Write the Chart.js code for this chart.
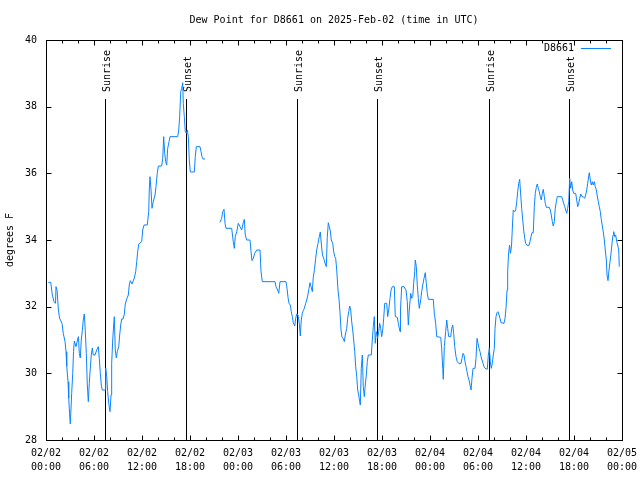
<!DOCTYPE html>
<html>
<head>
<meta charset="utf-8">
<script src="https://cdn.jsdelivr.net/npm/chart.js@4/dist/chart.umd.min.js"></script>
<style>
  html, body { margin: 0; padding: 0; background: #fff; }
  canvas { display: block; }
</style>
</head>
<body>
<canvas id="c" width="640" height="480"></canvas>
<script>
// ---- Data (hours since 2025-02-02 00:00 UTC) ----
const hours = [
  0.29,0.59,0.79,1.00,1.19,1.25,1.38,1.54,1.69,2.00,
  2.16,2.38,2.50,2.59,2.75,2.84,2.94,3.04,3.21,3.34,
  3.44,3.54,3.75,3.96,4.06,4.16,4.29,4.41,4.54,4.66,
  4.79,4.91,5.04,5.16,5.29,5.41,5.54,5.66,5.79,5.91,
  6.13,6.34,6.54,6.66,6.79,6.91,7.04,7.38,7.46,7.59,
  7.71,7.84,8.00,8.13,8.21,8.34,8.46,8.54,8.66,8.79,
  8.91,9.09,9.21,9.34,9.46,9.63,9.79,9.91,10.09,10.29,
  10.41,10.54,10.75,11.04,11.21,11.34,11.46,11.59,11.96,12.09,
  12.25,12.66,12.84,12.91,13.00,13.13,13.25,13.41,13.63,13.75,
  13.91,14.04,14.46,14.59,14.71,14.84,14.96,15.09,15.21,15.38,
  15.50,16.46,16.59,16.71,16.84,16.96,17.09,17.16,17.29,17.41,
  17.54,17.66,17.79,17.91,18.04,18.54,18.66,18.79,19.25,19.38,
  19.50,19.63,19.88,20.80,21.75,21.96,22.09,22.25,22.38,22.50,
  23.21,23.41,23.54,23.66,23.84,24.04,24.25,24.46,24.66,24.79,
  24.91,25.09,25.50,25.63,25.75,25.91,26.09,26.34,26.75,26.88,
  27.04,28.63,28.75,28.96,29.09,29.25,30.00,30.13,30.25,30.38,
  30.54,30.66,30.79,30.91,31.09,31.21,31.34,31.50,31.66,31.79,
  31.91,32.04,32.16,32.29,32.46,32.59,32.71,32.88,33.00,33.13,
  33.29,33.41,33.56,33.71,33.84,34.00,34.16,34.29,34.44,34.56,
  34.75,34.91,35.04,35.16,35.29,35.41,35.54,35.66,35.84,35.96,
  36.09,36.21,36.34,36.50,36.63,36.75,36.88,37.00,37.16,37.29,
  37.41,37.59,37.71,37.84,37.96,38.09,38.21,38.34,38.46,38.59,
  38.71,38.84,38.96,39.09,39.21,39.29,39.41,39.54,39.66,39.79,
  39.91,40.04,40.16,40.29,40.66,40.79,40.91,41.04,41.16,41.29,
  41.46,41.59,41.71,41.84,41.96,42.09,42.21,42.34,42.59,42.71,
  42.84,43.00,43.13,43.29,43.54,43.66,43.91,44.04,44.25,44.31,
  44.46,44.75,45.00,45.16,45.29,45.41,45.59,45.71,45.84,45.96,
  46.09,46.16,46.29,46.41,46.54,46.66,46.84,46.96,47.09,47.25,
  47.41,47.54,47.66,47.79,48.41,48.54,48.71,48.84,49.34,49.46,
  49.59,49.66,49.79,49.96,50.09,50.21,50.34,50.59,50.71,50.84,
  50.96,51.09,51.25,51.41,51.59,51.88,52.00,52.13,52.25,52.38,
  52.50,52.63,52.75,52.88,53.00,53.13,53.25,53.38,53.63,53.75,
  53.88,54.00,54.13,54.25,54.38,54.50,54.63,54.75,54.88,55.16,
  55.29,55.41,55.54,55.66,55.79,55.91,56.04,56.13,56.25,56.38,
  56.50,56.63,56.75,56.88,57.25,57.38,57.50,57.63,57.71,57.81,
  57.94,58.06,58.19,58.31,58.41,58.59,58.71,58.84,58.96,59.09,
  59.21,59.34,59.46,59.59,59.71,59.84,59.96,60.13,60.38,60.50,
  60.63,60.75,60.91,61.04,61.16,61.29,61.41,61.54,61.66,61.79,
  61.91,62.04,62.16,62.29,62.41,62.54,62.91,63.04,63.16,63.29,
  63.41,63.54,63.66,63.79,63.91,64.46,64.59,64.71,64.84,64.96,
  65.09,65.21,65.34,65.46,65.59,65.71,65.84,65.96,66.21,66.34,
  66.46,66.59,66.71,66.84,67.00,67.16,67.34,67.46,67.59,67.71,
  67.84,67.91,68.04,68.16,68.29,68.41,68.54,68.66,68.79,68.91,
  69.04,69.16,69.29,69.41,69.54,69.66,69.79,69.91,70.04,70.13,
  70.25,70.38,70.50,70.63,70.75,70.88,70.96,71.09,71.21,71.34,
  71.46,71.59,71.66
];
const dewPoint = [
  32.73,32.73,32.35,32.15,32.10,32.60,32.50,31.93,31.66,31.50,
  31.20,30.95,30.65,30.22,29.75,29.26,28.80,28.48,29.40,30.00,
  30.65,30.97,30.80,31.03,31.10,30.60,30.46,31.00,31.28,31.60,
  31.78,31.28,30.60,29.68,29.15,29.70,30.16,30.55,30.76,30.55,
  30.55,30.70,30.80,30.45,30.00,29.65,29.50,29.50,30.16,29.90,
  29.45,29.10,28.85,29.35,30.30,31.00,31.45,31.70,30.70,30.46,
  30.65,30.80,31.15,31.45,31.63,31.63,31.78,32.08,32.23,32.35,
  32.65,32.78,32.68,32.86,33.05,33.35,33.65,33.88,33.95,34.30,
  34.45,34.45,34.85,35.50,35.90,35.50,34.95,35.15,35.35,35.60,
  36.00,36.22,36.22,36.45,37.10,36.60,36.35,36.25,36.75,36.95,
  37.10,37.10,37.30,37.70,38.45,38.55,38.72,38.10,37.70,37.25,
  37.20,37.30,37.10,36.40,36.04,36.04,36.50,36.80,36.80,36.65,
  36.50,36.43,36.43,null,34.53,34.65,34.85,34.92,34.50,34.35,
  34.35,33.95,33.75,34.10,34.25,34.50,34.40,34.30,34.52,34.62,
  34.15,34.00,34.00,33.65,33.38,33.45,33.60,33.70,33.70,33.05,
  32.75,32.75,32.60,32.50,32.40,32.75,32.75,32.55,32.28,32.10,
  32.05,31.85,31.70,31.52,31.42,31.65,31.78,31.75,31.50,31.12,
  31.60,31.80,31.88,31.95,32.10,32.20,32.32,32.55,32.72,32.60,
  32.45,32.88,33.12,33.45,33.70,33.90,34.10,34.24,33.82,33.55,
  33.42,33.28,33.20,34.08,34.52,34.40,34.27,34.00,33.90,33.65,
  33.50,33.45,33.10,32.50,32.22,31.82,31.30,31.08,31.05,30.95,
  31.15,31.35,31.65,31.85,32.02,31.90,31.55,31.30,31.00,30.65,
  30.20,29.90,29.50,29.35,29.15,29.05,30.15,30.55,29.60,29.30,
  29.65,29.95,30.35,30.55,30.55,31.00,31.40,31.70,30.90,31.25,
  31.05,31.25,31.50,31.35,31.10,31.30,31.65,32.10,32.10,31.70,
  31.90,32.25,32.50,32.60,32.60,31.70,31.68,31.50,31.25,31.90,
  32.60,32.60,32.50,32.15,31.45,31.90,32.40,32.25,32.30,32.70,
  33.05,33.40,33.20,32.65,32.25,31.95,32.20,32.45,32.65,32.85,
  33.02,32.70,32.40,32.22,32.22,31.80,31.50,31.10,31.08,30.75,
  30.15,29.82,30.80,31.25,31.60,31.35,31.10,31.10,31.35,31.45,
  31.20,30.80,30.50,30.35,30.30,30.30,30.45,30.60,30.55,30.35,
  30.20,30.05,29.90,29.80,29.65,29.50,29.85,30.15,30.15,30.45,
  31.05,30.90,30.75,30.65,30.50,30.40,30.30,30.20,30.15,30.12,
  30.55,30.75,30.35,30.15,30.30,30.55,30.75,31.35,31.70,31.82,
  31.85,31.75,31.65,31.52,31.50,31.65,31.95,32.50,33.05,33.55,
  33.85,33.60,33.82,34.45,34.90,34.85,34.90,35.15,35.45,35.70,
  35.82,35.35,34.95,34.60,34.30,34.05,33.90,33.84,33.84,33.95,
  34.10,34.22,34.22,35.00,35.40,35.58,35.68,35.55,35.45,35.30,
  35.20,35.40,35.52,35.30,35.10,34.98,34.98,34.90,34.75,34.55,
  34.42,34.55,34.95,35.15,35.30,35.30,35.20,35.10,35.00,34.90,
  34.80,34.95,35.15,35.85,35.55,35.75,35.50,35.40,35.40,35.20,
  35.00,35.10,35.25,35.38,35.30,35.30,35.25,35.35,35.50,35.70,
  35.92,36.02,35.80,35.65,35.75,35.65,35.75,35.60,35.50,35.32,
  35.15,35.00,34.85,34.62,34.42,34.25,34.00,33.70,33.40,32.95,
  32.78,33.10,33.35,33.60,33.90,34.15,34.25,34.10,34.15,33.95,
  33.85,33.70,33.20
];
const seriesName = 'D8661';
const eventHours = [7.42, 17.54, 31.42, 41.42, 55.42, 65.42];
const eventNames = ['Sunrise', 'Sunset', 'Sunrise', 'Sunset', 'Sunrise', 'Sunset'];
const tickDates = ['02/02','02/02','02/02','02/02','02/03','02/03','02/03','02/03','02/04','02/04','02/04','02/04','02/05'];
const tickTimes = ['00:00','06:00','12:00','18:00','00:00','06:00','12:00','18:00','00:00','06:00','12:00','18:00','00:00'];
const yTicks = [28, 30, 32, 34, 36, 38, 40];

const FONT = 'DejaVu Sans Mono';
const LINE_COLOR = '#0a84ff';

const points = hours.map((h, i) => ({ x: h, y: dewPoint[i] }));

const decorPlugin = {
  id: 'decor',
  beforeDatasetsDraw(chart) {
    const { ctx, chartArea: a, scales: { x } } = chart;
    ctx.save();
    ctx.strokeStyle = '#000';
    ctx.lineWidth = 1;
    ctx.fillStyle = '#000';
    ctx.font = '10px "' + FONT + '"';
    eventHours.forEach((h, i) => {
      const px = Math.round(x.getPixelForValue(h)) + 0.5;
      ctx.beginPath();
      ctx.moveTo(px, 99);
      ctx.lineTo(px, a.bottom);
      ctx.stroke();
      ctx.save();
      ctx.translate(px + 1.5, 92);
      ctx.rotate(-Math.PI / 2);
      ctx.textAlign = 'left';
      ctx.textBaseline = 'middle';
      ctx.fillText(eventNames[i], 0, 0);
      ctx.restore();
    });
    ctx.restore();
  },
  afterDraw(chart) {
    const { ctx, chartArea: a, scales: { x, y } } = chart;
    ctx.save();
    ctx.strokeStyle = '#000';
    ctx.lineWidth = 1;
    const L = Math.round(a.left) + 0.5, R = Math.round(a.right) + 0.5;
    const T = Math.round(a.top) + 0.5, B = Math.round(a.bottom) + 0.5;
    ctx.strokeRect(L, T, R - L, B - T);
    ctx.beginPath();
    yTicks.forEach(v => {
      const py = Math.round(y.getPixelForValue(v)) + 0.5;
      ctx.moveTo(L, py); ctx.lineTo(L + 5, py);
      ctx.moveTo(R, py); ctx.lineTo(R - 5, py);
    });
    for (let h = 0; h <= 72; h += 2) {
      const px = Math.round(x.getPixelForValue(h)) + 0.5;
      const len = (h % 6 === 0) ? 5 : 3;
      ctx.moveTo(px, B); ctx.lineTo(px, B - len);
      ctx.moveTo(px, T); ctx.lineTo(px, T + len);
    }
    ctx.stroke();
    ctx.font = '10px "' + FONT + '"';
    ctx.fillStyle = '#000';
    ctx.textAlign = 'right';
    ctx.textBaseline = 'middle';
    ctx.fillText(chart.data.datasets[0].label, 574, 48);
    ctx.strokeStyle = chart.data.datasets[0].borderColor;
    ctx.beginPath();
    ctx.moveTo(581, 48.5);
    ctx.lineTo(611, 48.5);
    ctx.stroke();
    ctx.restore();
  }
};

new Chart(document.getElementById('c').getContext('2d'), {
  type: 'line',
  data: {
    datasets: [{
      label: seriesName,
      data: points,
      borderColor: LINE_COLOR,
      borderWidth: 1,
      pointRadius: 0,
      tension: 0,
      fill: false,
      spanGaps: false
    }]
  },
  options: {
    responsive: false,
    animation: false,
    devicePixelRatio: 1,
    layout: { padding: { left: 0, right: 18, top: 0, bottom: 0 } },
    plugins: {
      legend: { display: false },
      tooltip: { enabled: false },
      title: {
        display: true,
        text: 'Dew Point for D8661 on 2025-Feb-02 (time in UTC)',
        fullSize: false,
        color: '#000',
        font: { family: FONT, size: 10, weight: 'normal' },
        padding: { top: 14, bottom: 14 }
      }
    },
    scales: {
      x: {
        type: 'linear',
        min: 0,
        max: 72,
        grid: { display: false, drawTicks: false },
        border: { display: false },
        ticks: {
          stepSize: 6,
          autoSkip: false,
          maxRotation: 0,
          padding: 6,
          color: '#000',
          font: { family: FONT, size: 10, lineHeight: 1.4 },
          callback: (v) => {
            const i = Math.round(v / 6);
            return [tickDates[i], tickTimes[i]];
          }
        },
        afterFit: (s) => { s.height = 40; s.paddingLeft = 0; s.paddingRight = 0; }
      },
      y: {
        min: 28,
        max: 40,
        grid: { display: false, drawTicks: false },
        border: { display: false },
        ticks: {
          stepSize: 2,
          padding: 9,
          color: '#000',
          font: { family: FONT, size: 10 }
        },
        title: {
          display: true,
          text: 'degrees F',
          color: '#000',
          font: { family: FONT, size: 10 },
          padding: { top: 4, bottom: 4 }
        },
        afterFit: (s) => { s.width = 46; }
      }
    }
  },
  plugins: [decorPlugin]
});
</script>
</body>
</html>
